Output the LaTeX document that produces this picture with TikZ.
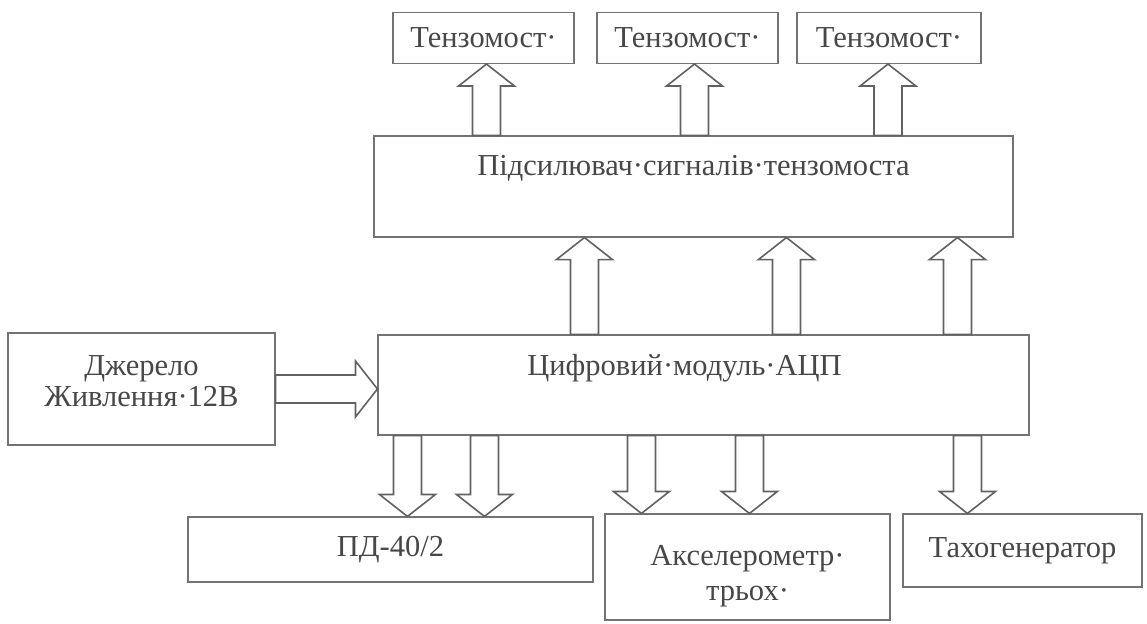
\documentclass[tikz,border=0pt]{standalone}
\usepackage{fontspec}
\setmainfont{Liberation Serif}
\usetikzlibrary{calc}
\definecolor{boxgray}{gray}{0.45}
\definecolor{arrgray}{gray}{0.38}
\definecolor{txtgray}{gray}{0.28}
\newcommand\blocksize{\fontsize{30.5}{35}\selectfont}
\tikzset{
  blk/.style={draw=boxgray, line width=1.1pt, inner sep=0pt, text=txtgray, font=\blocksize, align=center},
  lbl/.style={anchor=center, label distance=-33pt, text=txtgray, font=\blocksize, inner sep=0pt, align=center},
  barrow/.style={draw=arrgray, line width=1.6pt, fill=white, line join=miter},
}
% hollow block arrow from #1 to #2
\newcommand\blockarrow[2]{%
  \draw[barrow] let \p1=#1, \p2=#2, \n1={veclen(\x2-\x1,\y2-\y1)}, \n2={atan2(\y2-\y1,\x2-\x1)} in
    [shift={(\p1)}, rotate=\n2]
    (0,-14) -- (\n1-22,-14) -- (\n1-22,-28) -- (\n1,0) -- (\n1-22,28) -- (\n1-22,14) -- (0,14) -- cycle;}
\begin{document}
\begin{tikzpicture}[x=1pt, y=-1pt]
\useasboundingbox (0,0) rectangle (1147,623);
% blocks
\foreach \i/\x/\w in {1/483.5/181, 2/687.5/181, 3/889/184}
  \node[blk, minimum width=\w pt, minimum height=51pt] (tz\i) at (\x,38) {Тензомост·};
\node[blk, minimum width=639pt, minimum height=101pt,
  label={[lbl]north:Підсилювач·сигналів·тензомоста}] (amp) at (693.5,186.5) {};
\node[blk, minimum width=651pt, minimum height=100pt,
  label={[lbl, label distance=-34pt, xshift=-19pt]north:Цифровий·модуль·АЦП}] (adc) at (703.5,385) {};
\node[blk, minimum width=267pt, minimum height=112pt,
  label={[lbl, label distance=-49pt]north:{Джерело\\[-4pt]Живлення·12В}}] (pwr) at (141.5,389) {};
\node[blk, minimum width=405pt, minimum height=65pt] (pd) at (390.5,549.5) {ПД-40/2};
\node[blk, minimum width=285pt, minimum height=106pt,
  label={[lbl, label distance=-63pt]north:{Акселерометр·\\трьох·}}] (acc) at (747.5,567) {};
\node[blk, minimum width=239pt, minimum height=73pt] (tach) at (1022.5,550.5) {Тахогенератор};
% arrow feet on the ADC module
\foreach \k/\dx in {1/207, 2/409, 3/580}
  \coordinate (a\k) at ($(adc.north west)+(\dx,0)$);
\foreach \k/\dx in {1/30, 2/107, 3/264, 4/372, 5/590}
  \coordinate (d\k) at ($(adc.south west)+(\dx,0)$);
% arrows
\foreach \i/\dx in {1/3, 2/7, 3/-1}
  \blockarrow{($(amp.north -| tz\i.south)+(\dx,0)$)}{($(tz\i.south)+(\dx,0)$)};
\foreach \k in {1,2,3}
  \blockarrow{(a\k)}{(a\k |- amp.south)};
\blockarrow{(pwr.east)}{(pwr.east -| adc.west)};
\foreach \c/\t in {d1/pd, d2/pd, d3/acc, d4/acc, d5/tach}
  \blockarrow{(\c)}{(\c |- \t.north)};
\end{tikzpicture}
\end{document}
